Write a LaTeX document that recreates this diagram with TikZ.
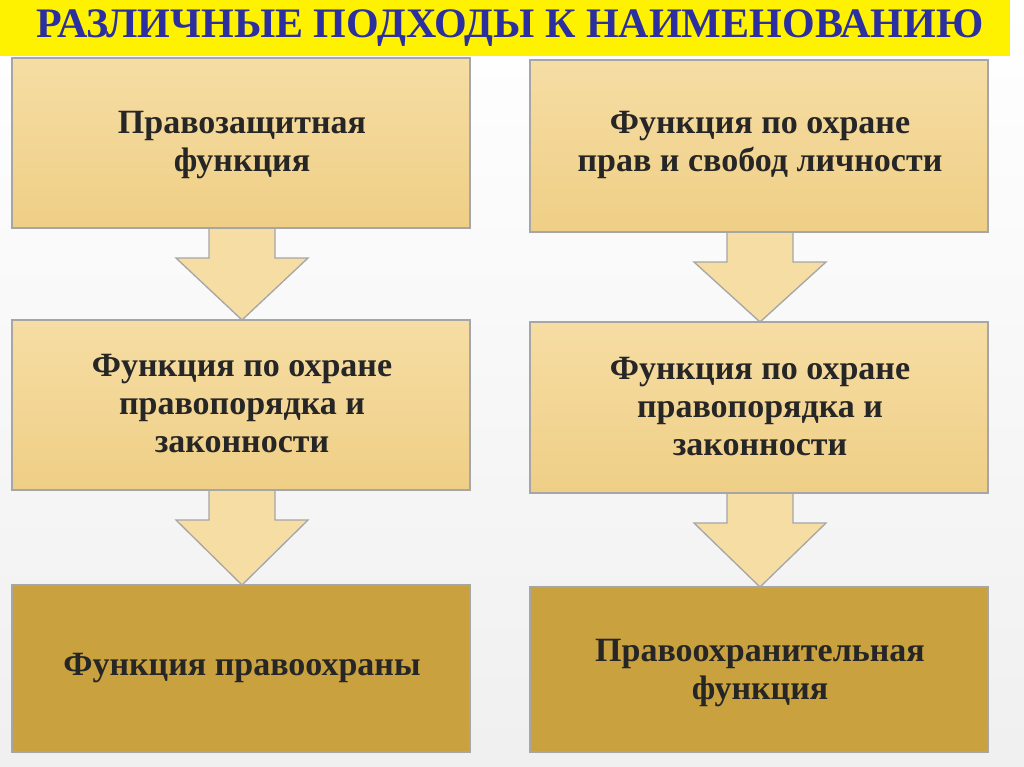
\documentclass[tikz,border=0pt]{standalone}
\usepackage{fontspec}
\setmainfont{Liberation Serif}
\begin{document}
\begin{tikzpicture}[x=0.75pt,y=-0.75pt,
  lbox/.style={draw=gray!70,line width=1pt,top color=lighttan,bottom color=midtan},
  dbox/.style={draw=gray!70,line width=1pt,fill=darktan},
  arr/.style={draw=gray!70,line width=1pt,fill=lighttan},
  txt/.style={font=\fontsize{25.5}{28.5}\selectfont\bfseries,text=black!85,align=center}]
\definecolor{lighttan}{HTML}{F6DDA4}
\definecolor{midtan}{HTML}{EFCF86}
\definecolor{darktan}{HTML}{C9A13F}
\definecolor{ttlblue}{HTML}{2B2FA0}
\useasboundingbox (0,0) rectangle (1024,767);
\fill[top color=white,bottom color=gray!12] (0,0) rectangle (1024,767);
\fill[yellow] (0,0) rectangle (1010,56);
\node[font=\fontsize{31.5}{36}\selectfont\bfseries,text=ttlblue] (title) at (510,28) {РАЗЛИЧНЫЕ ПОДХОДЫ К НАИМЕНОВАНИЮ};
% arrows
\foreach \cx/\ya/\yb in {242/226/320, 242/488/585, 760/230/322, 760/491/587}{
  \draw[arr] (\cx-33,\ya) -- (\cx+33,\ya) -- (\cx+33,\ya+32) -- (\cx+66,\ya+32) -- (\cx,\yb) -- (\cx-66,\ya+32) -- (\cx-33,\ya+32) -- cycle;
}
\draw[lbox] (12,58) rectangle (470,228);
\draw[lbox] (12,320) rectangle (470,490);
\draw[dbox] (12,585) rectangle (470,752);
\draw[lbox] (530,60) rectangle (988,232);
\draw[lbox] (530,322) rectangle (988,493);
\draw[dbox] (530,587) rectangle (988,752);
\node[txt] (a1) at (242,145) {Правозащитная\\функция};
\node[txt] (a2) at (242,404) {Функция по охране\\правопорядка и\\законности};
\node[txt] (a3) at (242,668) {Функция правоохраны};
\node[txt] (b1) at (760,145) {Функция по охране\\прав и свобод личности};
\node[txt] (b2) at (760,407) {Функция по охране\\правопорядка и\\законности};
\node[txt] (b3) at (760,673) {Правоохранительная\\функция};
\end{tikzpicture}
\end{document}
